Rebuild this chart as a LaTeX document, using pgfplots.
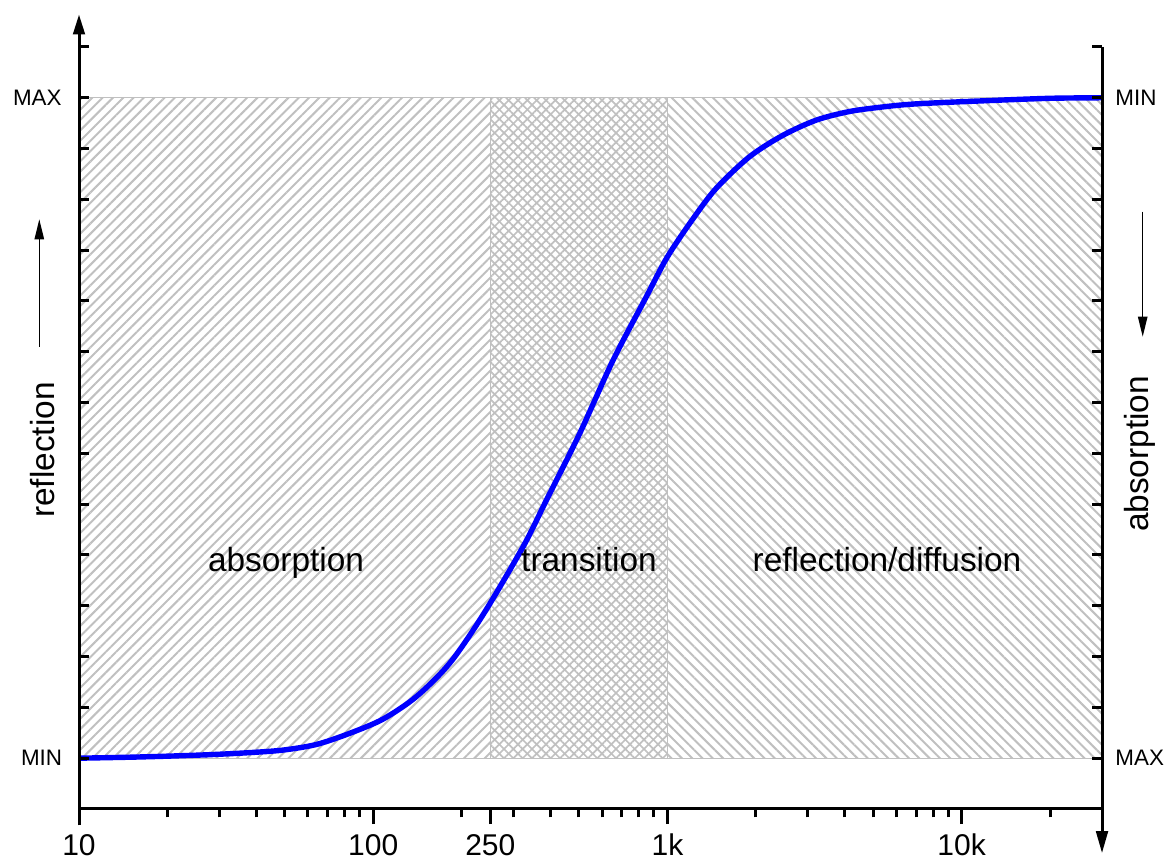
\documentclass[border=0pt]{standalone}
\usepackage{fontspec}
\setmainfont{Liberation Sans}
\usepackage{pgfplots}
\usepackage{pgfplotstable}
\pgfplotsset{compat=1.18}
\usetikzlibrary{patterns.meta, arrows.meta}
\definecolor{hatch}{HTML}{C0C0C0}
\definecolor{curveblue}{HTML}{0000FF}

\pgfplotstableread{
x y
10 0
15 0.02
20 0.04
28 0.07
38.1 0.11
49.4 0.16
64.1 0.27
83.2 0.49
108 0.77
140 1.21
182 1.87
236 2.82
323 4.16
388 5.08
504 6.40
653 7.83
847 9.08
1000 9.87
1222 10.62
1466 11.22
1901 11.84
2466 12.26
3205 12.56
4159 12.73
5398 12.82
7000 12.88
11800 12.94
20000 12.99
30000 13.00
}\curvedata

\begin{document}
\begin{tikzpicture}
\useasboundingbox (0,0) rectangle (586pt,430.5pt);

% overlay axis for the x ticks (outside)
\begin{axis}[
  at={(39.5pt,26pt)}, anchor=south west,
  scale only axis, width=511.5pt, height=381pt,
  xmode=log, xmin=10, xmax=30000, ymin=-1, ymax=14,
  axis line style={draw=none},
  ytick=\empty,
  xtick={10,100,250,1000,10000},
  xticklabels={10,100,250,1k,10k},
  minor xtick={20,30,40,50,60,70,80,90,200,300,400,500,600,700,800,900,2000,3000,4000,5000,6000,7000,8000,9000,20000},
  xtick pos=left, tick align=outside,
  major tick length=7.5pt, minor tick length=4.2pt,
  tick style={black, line width=1.5pt},
  xticklabel style={font=\fontsize{15}{18}\selectfont, anchor=base, yshift=-15.5pt},
  /pgf/number format/assume math mode=true,
  clip=false,
]
\pgfplotsinvokeforeach{10,100,250,1000,10000}{
  \draw[line width=1.5pt] (axis cs:#1,-1) -- ++(0pt,-7.5pt);}
\pgfplotsinvokeforeach{20,30,40,50,60,70,80,90,200,300,400,500,600,700,800,900,2000,3000,4000,5000,6000,7000,8000,9000,20000}{
  \draw[line width=1.5pt] (axis cs:#1,-1) -- ++(0pt,-4.2pt);}
\end{axis}

% main axis
\begin{axis}[
  at={(39.5pt,26pt)}, anchor=south west,
  scale only axis, width=511.5pt, height=381pt,
  xmode=log, xmin=10, xmax=30000, ymin=-1, ymax=14,
  axis line style={draw=none},
  xtick=\empty,
  ytick={0,1,2,3,4,5,6,7,8,9,10,11,12,13,14},
  yticklabel=\empty,
  ytick pos=both, tick align=inside,
  major tick length=5pt,
  tick style={black, line width=1.5pt},
  clip=false,
]
% hatched regions
\addplot[draw=hatch, line width=0.65pt,
  pattern={Lines[angle=45,distance=3.65pt,line width=1pt]}, pattern color=hatch]
  coordinates {(10,0) (10,13) (250,13) (250,0) (10,0)};
\addplot[draw=hatch, line width=0.65pt,
  pattern={Lines[angle=45,distance=3.3pt,line width=0.85pt]}, pattern color=hatch]
  coordinates {(250,0) (250,13) (1000,13) (1000,0) (250,0)};
\addplot[draw=hatch, line width=0.65pt,
  pattern={Lines[angle=-45,distance=3.3pt,line width=0.85pt]}, pattern color=hatch]
  coordinates {(250,0) (250,13) (1000,13) (1000,0) (250,0)};
\addplot[draw=hatch, line width=0.65pt,
  pattern={Lines[angle=-45,distance=3.65pt,line width=1pt]}, pattern color=hatch]
  coordinates {(1000,0) (1000,13) (30000,13) (30000,0) (1000,0)};

% curve
\addplot[curveblue, line width=2.7pt, smooth] table[x=x,y=y] {\curvedata};

% y ticks (bold, inside) on both sides
\pgfplotsinvokeforeach{0,1,2,3,4,5,6,7,8,9,10,11,12,13,14}{
  \draw[line width=1.5pt] (axis cs:10,#1) -- ++(5pt,0pt);
  \draw[line width=1.5pt] (axis cs:30000,#1) -- ++(-5pt,0pt);}

% axis lines
\draw[line width=1.5pt, -{Triangle[length=10pt,width=5.8pt]}] (axis cs:10,-1.32) -- (axis cs:10,14.64);
\draw[line width=1.5pt] (axis cs:10,-1) -- (axis cs:30000,-1);
\draw[line width=1.5pt, -{Triangle[length=11pt,width=5.8pt]}] (axis cs:30000,14) -- (axis cs:30000,-1.87);
\end{axis}

% annotations in pixel coordinates
\begin{scope}[x=0.5pt,y=-0.5pt,shift={(0pt,430.5pt)}]
  \draw[line width=0.65pt, -{Triangle[length=10pt,width=4.7pt]}] (39.3,346.7) -- (39.3,219.3);
  \draw[line width=0.65pt, -{Triangle[length=10pt,width=4.7pt]}] (1142.7,211.7) -- (1142.7,336.7);
  \node[rotate=90, inner sep=0pt, font=\fontsize{16.7}{20}\selectfont] at (42.2,450) {reflection};
  \node[rotate=90, inner sep=0pt, font=\fontsize{16.7}{20}\selectfont] at (1140,454) {absorption};
  \node[anchor=east, inner sep=0pt, font=\fontsize{11.2}{13}\selectfont] at (62,98) {MAX};
  \node[anchor=east, inner sep=0pt, font=\fontsize{11.2}{13}\selectfont] at (62.5,758) {MIN};
  \node[anchor=west, inner sep=0pt, font=\fontsize{11.2}{13}\selectfont] at (1115,98) {MIN};
  \node[anchor=west, inner sep=0pt, font=\fontsize{11.2}{13}\selectfont] at (1115,758) {MAX};
  \node[anchor=base, inner sep=0pt, font=\fontsize{16.7}{20}\selectfont] at (286,572) {absorption};
  \node[anchor=base, inner sep=0pt, font=\fontsize{16.7}{20}\selectfont] at (589,572) {transition};
  \node[anchor=base, inner sep=0pt, font=\fontsize{16.7}{20}\selectfont] at (887,572) {reflection/diffusion};
\end{scope}
\end{tikzpicture}
\end{document}
